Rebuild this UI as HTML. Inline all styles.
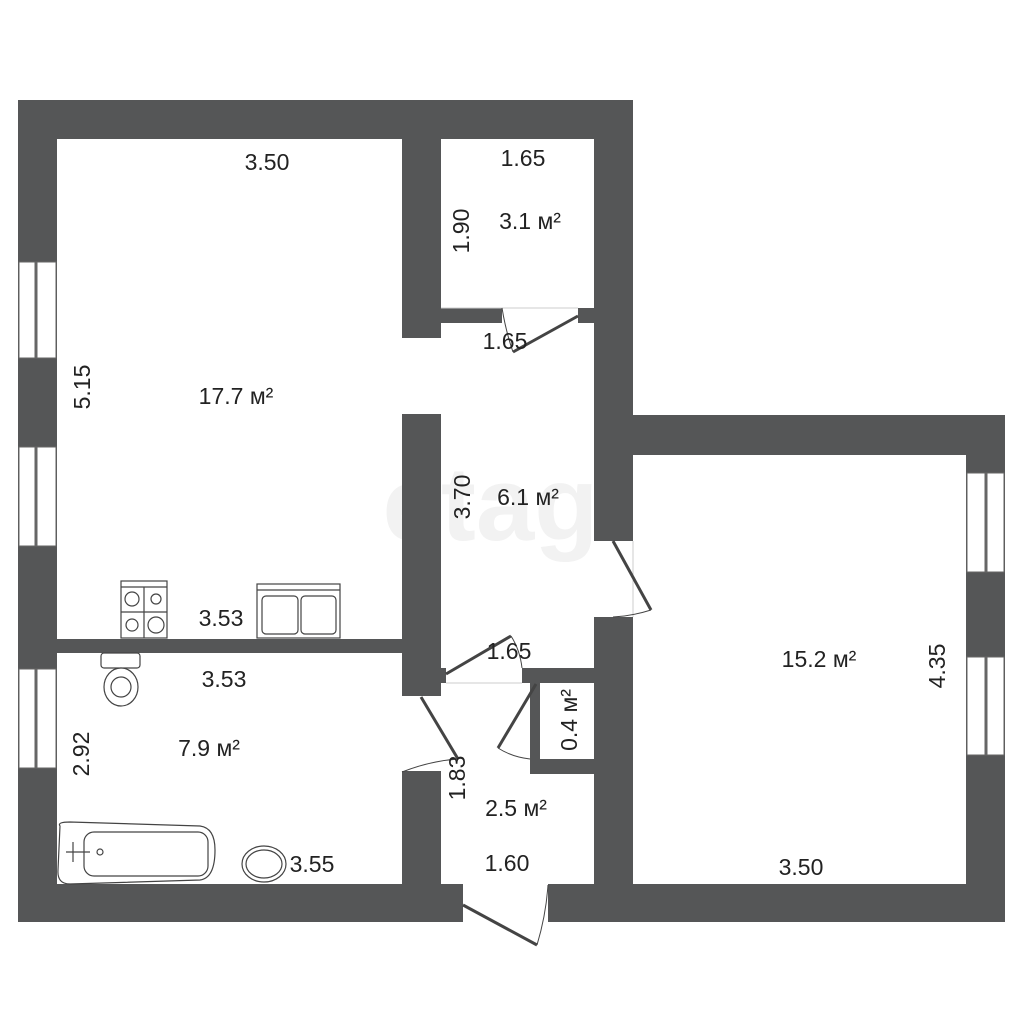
<!DOCTYPE html>
<html><head><meta charset="utf-8"><style>
html,body{margin:0;padding:0;background:#fff;}
svg{display:block;}
text{font-family:"Liberation Sans Narrow","Liberation Sans",sans-serif;font-size:23px;fill:#222;}
</style></head><body>
<svg width="1024" height="1024" viewBox="0 0 1024 1024" xmlns="http://www.w3.org/2000/svg">
<rect width="1024" height="1024" fill="#fff"/>
<text x="505" y="540" text-anchor="middle" style="font-size:105px;font-weight:bold;fill:#f2f2f2;font-family:'Liberation Sans',sans-serif">etagi</text>
<g fill="#555657">
<rect x="18" y="100" width="615" height="39"/>
<rect x="18" y="100" width="39" height="822"/>
<rect x="594" y="100" width="39" height="441"/>
<rect x="594" y="617" width="39" height="305"/>
<rect x="594" y="415" width="411" height="40"/>
<rect x="966" y="415" width="39" height="507"/>
<rect x="18" y="884" width="445" height="38"/>
<rect x="548" y="884" width="457" height="38"/>
<rect x="402" y="139" width="39" height="199"/>
<rect x="402" y="308" width="100" height="15"/>
<rect x="578" y="308" width="16" height="15"/>
<rect x="402" y="414" width="39" height="282"/>
<rect x="441" y="668" width="5" height="15"/>
<rect x="57" y="639" width="345" height="14"/>
<rect x="402" y="771" width="39" height="113"/>
<rect x="522" y="668" width="72" height="15"/>
<rect x="530" y="759" width="64" height="15"/>
<rect x="530" y="683" width="10" height="90"/>
</g>
<g fill="#fff" stroke="#666" stroke-width="1">
<rect x="19" y="262" width="37" height="96"/>
<rect x="19" y="447" width="37" height="99"/>
<rect x="19" y="669" width="37" height="99"/>
<rect x="967" y="473" width="37" height="99"/>
<rect x="967" y="657" width="37" height="98"/>
</g>
<g stroke="#666" stroke-width="3">
<line x1="36" y1="262" x2="36" y2="358"/><line x1="36" y1="447" x2="36" y2="546"/><line x1="36" y1="669" x2="36" y2="768"/>
<line x1="986" y1="473" x2="986" y2="572"/><line x1="986" y1="657" x2="986" y2="755"/>
</g>
<g stroke="#ccc" stroke-width="1" fill="none">
<line x1="441" y1="308" x2="578" y2="308"/>
<line x1="446" y1="683" x2="522" y2="683"/>
<line x1="633" y1="541" x2="633" y2="617"/>
</g>
<g stroke="#444" stroke-width="3" fill="none">
<line x1="578" y1="316" x2="513" y2="352"/>
<line x1="613" y1="541" x2="651" y2="610"/>
<line x1="446" y1="674" x2="511" y2="636"/>
<line x1="536" y1="684" x2="498" y2="748"/>
<line x1="421" y1="697" x2="458" y2="759"/>
<line x1="463" y1="905" x2="537" y2="945"/>
</g>
<g stroke="#444" stroke-width="1" fill="none">
<path d="M502 308 Q506 332 513 352"/>
<path d="M651 610 Q632 616 613 617"/>
<path d="M511 636 Q520 650 522 668"/>
<path d="M498 748 Q512 757 530 759"/>
<path d="M458 759 Q430 761 402 772"/>
<path d="M537 945 Q546 915 548 885"/>
</g>
<g stroke="#444" stroke-width="1.2" fill="#fff">
<rect x="121" y="581" width="46" height="57"/>
<line x1="121" y1="587" x2="167" y2="587"/><line x1="144" y1="587" x2="144" y2="638"/><line x1="121" y1="612" x2="167" y2="612"/>
<circle cx="132" cy="599" r="7"/><circle cx="156" cy="599" r="5"/><circle cx="132" cy="625" r="6"/><circle cx="156" cy="625" r="8"/>
<rect x="257" y="584" width="83" height="54"/>
<line x1="257" y1="590" x2="340" y2="590"/>
<rect x="262" y="596" width="36" height="38" rx="4"/><rect x="301" y="596" width="35" height="38" rx="4"/>
<rect x="101" y="653" width="39" height="15" rx="3"/>
<ellipse cx="121" cy="687" rx="17" ry="19"/><ellipse cx="121" cy="687" rx="10" ry="10"/>
<path d="M60 826 Q57 822 70 822 L200 826 Q215 828 215 850 Q215 878 200 880 L70 884 Q57 884 58 870 Z"/>
<rect x="84" y="832" width="124" height="44" rx="10"/>
<ellipse cx="264" cy="864" rx="22" ry="18"/><ellipse cx="264" cy="864" rx="18" ry="14"/>
</g>
<g stroke="#444" stroke-width="1.2" fill="none"><line x1="66" y1="852" x2="90" y2="852"/><line x1="73" y1="842" x2="73" y2="862"/><circle cx="100" cy="852" r="3"/></g>
<g text-anchor="middle">
<text x="267" y="170">3.50</text>
<text x="523" y="166">1.65</text>
<text x="530" y="229">3.1 м²</text>
<text x="505" y="349">1.65</text>
<text x="236" y="404">17.7 м²</text>
<text x="528" y="505">6.1 м²</text>
<text x="221" y="626">3.53</text>
<text x="509" y="659">1.65</text>
<text x="224" y="687">3.53</text>
<text x="819" y="667">15.2 м²</text>
<text x="209" y="756">7.9 м²</text>
<text x="516" y="816">2.5 м²</text>
<text x="312" y="872">3.55</text>
<text x="507" y="871">1.60</text>
<text x="801" y="875">3.50</text>
<text transform="translate(469,231) rotate(-90)">1.90</text>
<text transform="translate(90,387) rotate(-90)">5.15</text>
<text transform="translate(470,497) rotate(-90)">3.70</text>
<text transform="translate(945,666) rotate(-90)">4.35</text>
<text transform="translate(577,720) rotate(-90)">0.4 м²</text>
<text transform="translate(89,754) rotate(-90)">2.92</text>
<text transform="translate(465,778) rotate(-90)">1.83</text>
</g>
</svg>
</body></html>
